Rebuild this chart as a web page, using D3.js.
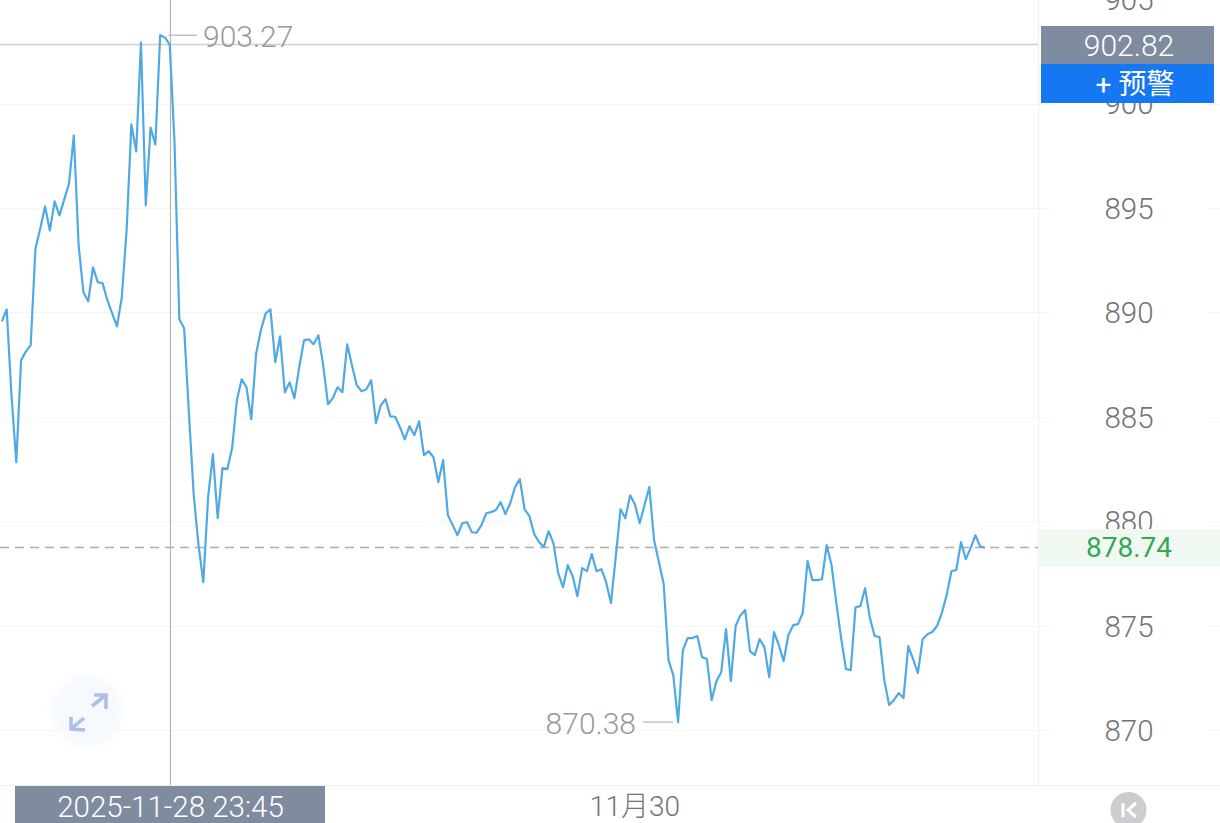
<!DOCTYPE html>
<html>
<head>
<meta charset="utf-8">
<script src="https://cdn.jsdelivr.net/npm/d3@7/dist/d3.min.js"></script>
<style>
  html, body { margin: 0; padding: 0; background: #fff; overflow: hidden; }
  text { font-family: Roboto, "Noto Sans CJK SC", sans-serif; }
</style>
</head>
<body>
<svg width="1220" height="823"></svg>
<script>
// Prices, one per 15 minute step
var prices = [
  889.57, 890.14, 886.03, 882.82, 887.70, 888.13, 888.42, 893.06, 894.02, 895.07,
  893.92, 895.31, 894.64, 895.41, 896.17, 898.47, 893.21, 890.96, 890.53, 892.15,
  891.44, 891.39, 890.57, 889.95, 889.33, 890.72, 893.92, 899.00, 897.70, 902.92,
  895.12, 898.85, 898.04, 903.27, 903.16, 902.82, 898.09, 889.67, 889.24, 885.17,
  881.24, 878.85, 877.08, 881.15, 883.21, 880.14, 882.54, 882.49, 883.49, 885.79,
  886.79, 886.41, 884.88, 887.99, 889.14, 889.95, 890.14, 887.61, 888.85, 886.17,
  886.65, 885.89, 887.37, 888.66, 888.71, 888.47, 888.90, 887.46, 885.60, 885.89,
  886.41, 886.17, 888.47, 887.46, 886.51, 886.22, 886.32, 886.75, 884.69, 885.55,
  885.84, 885.02, 885.00, 884.50, 883.92, 884.55, 884.12, 884.78, 883.16, 883.35,
  883.06, 881.87, 882.92, 880.29, 879.81, 879.33, 879.90, 879.95, 879.47, 879.45,
  879.81, 880.38, 880.43, 880.53, 880.91, 880.34, 880.86, 881.63, 882.01, 880.57,
  880.24, 879.38, 879.00, 878.76, 879.52, 878.95, 877.51, 876.84, 877.89, 877.37,
  876.41, 877.75, 877.61, 878.42, 877.60, 877.70, 877.08, 876.08, 878.28, 880.57,
  880.14, 881.24, 880.81, 879.90, 880.77, 881.63, 879.09, 878.04, 876.99, 873.35,
  872.63, 870.38, 873.83, 874.40, 874.40, 874.50, 873.49, 873.40, 871.43, 872.34,
  872.77, 874.83, 872.34, 874.98, 875.50, 875.74, 873.78, 873.59, 874.35, 873.97,
  872.54, 874.69, 874.07, 873.30, 874.55, 875.02, 875.07, 875.60, 878.09, 877.18,
  877.18, 877.22, 878.85, 877.89, 876.08, 874.40, 872.92, 872.87, 875.88, 875.93,
  876.79, 875.36, 874.50, 874.45, 872.39, 871.20, 871.43, 871.77, 871.53, 874.02,
  873.40, 872.73, 874.35, 874.59, 874.69, 874.98, 875.60, 876.46, 877.60, 877.66,
  879.00, 878.18, 878.71, 879.33, 878.78, 878.74
];
var priceTicks = [870, 875, 880, 885, 890, 895, 900, 905];

var crossIndex = 35;
var crossPrice = 902.82;
var crossTime = "2025-11-28 23:45";
var lastPrice = 878.74;
var highPrice = 903.27;
var highIndex = 33;
var lowPrice = 870.38;
var lowIndex = 141;
var dateIndex = 132;
var dateLabel = "11月30";
var alertLabel = "+ 预警";

var svg = d3.select("svg");
var plotRight = 1038,
  plotBottom = 785,
  axisCenter = 1129;

var x = d3.scaleLinear().domain([0, prices.length - 1]).range([1.9, 985]);
var y = d3.scaleLinear().domain([870, 900]).range([730, 103.5]);

var defs = svg.append("defs");
defs.append("filter").attr("id", "soft").append("feGaussianBlur").attr("stdDeviation", 4);

// Grid lines, they stop short of the axis labels and start again at the edge
var grid = svg.append("g").attr("stroke", "#f5f5f5").attr("stroke-width", 1);
priceTicks.filter((d) => d < 905).forEach(function (d) {
  var py = Math.round(y(d)) + 0.5;
  grid.append("line").attr("x1", 0).attr("x2", 1052).attr("y1", py).attr("y2", py);
  grid.append("line").attr("x1", 1208).attr("x2", 1220).attr("y1", py).attr("y2", py);
});

// Frame of the plot
svg.append("line")
  .attr("x1", plotRight + 0.5).attr("x2", plotRight + 0.5)
  .attr("y1", 0).attr("y2", plotBottom)
  .attr("stroke", "#f0f0f0");
svg.append("line")
  .attr("x1", 0).attr("x2", 1220)
  .attr("y1", plotBottom + 0.5).attr("y2", plotBottom + 0.5)
  .attr("stroke", "#f0f0f0");

// Price axis, only the labels are kept
var yAxis = svg.append("g")
  .attr("transform", "translate(" + axisCenter + ",1)")
  .call(d3.axisRight(y).tickValues(priceTicks).tickSize(0).tickPadding(0));
yAxis.select(".domain").remove();
yAxis.selectAll("text")
  .attr("x", 0)
  .attr("text-anchor", "middle")
  .attr("font-size", 29.5)
  .attr("font-family", "Roboto")
  .attr("font-weight", 300)
  .attr("fill", "#747474");

// Expand button
svg.append("circle")
  .attr("cx", 87).attr("cy", 711).attr("r", 36)
  .attr("fill", "#f6f9fd")
  .attr("filter", "url(#soft)");
svg.append("path")
  .attr("d", "M92 706 L106 695 M94 695 L106 695 L106 709 M84 718 L71 729 M71 717 L71 729 L85 730")
  .attr("fill", "none")
  .attr("stroke", "#abbfe8")
  .attr("stroke-width", 3.5);

// Crosshair
svg.append("line")
  .attr("x1", 170.5).attr("x2", 170.5)
  .attr("y1", 0).attr("y2", plotBottom)
  .attr("stroke", "#b4b4b4").attr("stroke-width", 1.2);
svg.append("line")
  .attr("x1", 0).attr("x2", plotRight)
  .attr("y1", y(crossPrice)).attr("y2", y(crossPrice))
  .attr("stroke", "#cfcfcf").attr("stroke-width", 1.5);

// Last price line
svg.append("line")
  .attr("x1", 0).attr("x2", plotRight)
  .attr("y1", y(lastPrice)).attr("y2", y(lastPrice))
  .attr("stroke", "#adadad").attr("stroke-width", 1.6)
  .attr("stroke-dasharray", "9,6");

// Price line
var line = d3.line()
  .x((d, i) => x(i))
  .y((d) => y(d));
svg.append("path")
  .datum(prices)
  .attr("d", line)
  .attr("fill", "none")
  .attr("stroke", "#4faae3")
  .attr("stroke-width", 2.2)
  .attr("stroke-linejoin", "round");

// High and low labels
svg.append("line")
  .attr("x1", x(highIndex) + 8).attr("x2", 197)
  .attr("y1", y(highPrice)).attr("y2", y(highPrice))
  .attr("stroke", "#b4b4b4").attr("stroke-width", 1.2);
svg.append("text")
  .attr("x", 203).attr("y", y(highPrice) + 12)
  .attr("font-size", 30).attr("font-weight", 300)
  .attr("fill", "#9a9a9a")
  .text(highPrice.toFixed(2));
svg.append("line")
  .attr("x1", 643).attr("x2", x(lowIndex) - 5)
  .attr("y1", y(lowPrice)).attr("y2", y(lowPrice))
  .attr("stroke", "#b4b4b4").attr("stroke-width", 1.2);
svg.append("text")
  .attr("x", 636).attr("y", y(lowPrice) + 12)
  .attr("text-anchor", "end")
  .attr("font-size", 30).attr("font-weight", 300)
  .attr("fill", "#9a9a9a")
  .text(lowPrice.toFixed(2));

// Last price band
svg.append("rect")
  .attr("x", plotRight).attr("y", 529)
  .attr("width", 1220 - plotRight).attr("height", 37)
  .attr("fill", "#eff9f2");
svg.append("text")
  .attr("x", axisCenter).attr("y", y(lastPrice) + 10)
  .attr("text-anchor", "middle")
  .attr("font-size", 28)
  .attr("fill", "#34a853")
  .text(lastPrice.toFixed(2));

// Crosshair price and alert button
svg.append("rect")
  .attr("x", 1041).attr("y", 26).attr("width", 173).attr("height", 39)
  .attr("fill", "#7f8ca0");
svg.append("text")
  .attr("x", axisCenter).attr("y", 56)
  .attr("text-anchor", "middle")
  .attr("font-size", 30)
  .attr("font-weight", 300)
  .attr("fill", "#fff")
  .text(crossPrice.toFixed(2));
svg.append("rect")
  .attr("x", 1041).attr("y", 64).attr("width", 173).attr("height", 39)
  .attr("fill", "#1677f2");
svg.append("text")
  .attr("x", 1135).attr("y", 94)
  .attr("text-anchor", "middle")
  .attr("font-size", 28)
  .attr("fill", "#fff")
  .text(alertLabel);

// Time axis
svg.append("rect")
  .attr("x", 15).attr("y", 786).attr("width", 310).attr("height", 37)
  .attr("fill", "#7f8ca0");
svg.append("text")
  .attr("x", 170.5).attr("y", 817)
  .attr("text-anchor", "middle")
  .attr("font-size", 29.5)
  .attr("font-weight", 300)
  .attr("fill", "#fff")
  .text(crossTime);
svg.append("text")
  .attr("x", x(dateIndex)).attr("y", 816)
  .attr("text-anchor", "middle")
  .attr("font-size", 28)
  .attr("font-weight", 300)
  .attr("fill", "#747474")
  .text(dateLabel);

// K button in the corner
svg.append("circle")
  .attr("cx", 1128.5).attr("cy", 810).attr("r", 18)
  .attr("fill", "#cbcdd0");
svg.append("path")
  .attr("d", "M1123 803 V817 M1136 803 L1128 810 L1136 817")
  .attr("fill", "none")
  .attr("stroke", "#fff")
  .attr("stroke-width", 3);
</script>
</body>
</html>
